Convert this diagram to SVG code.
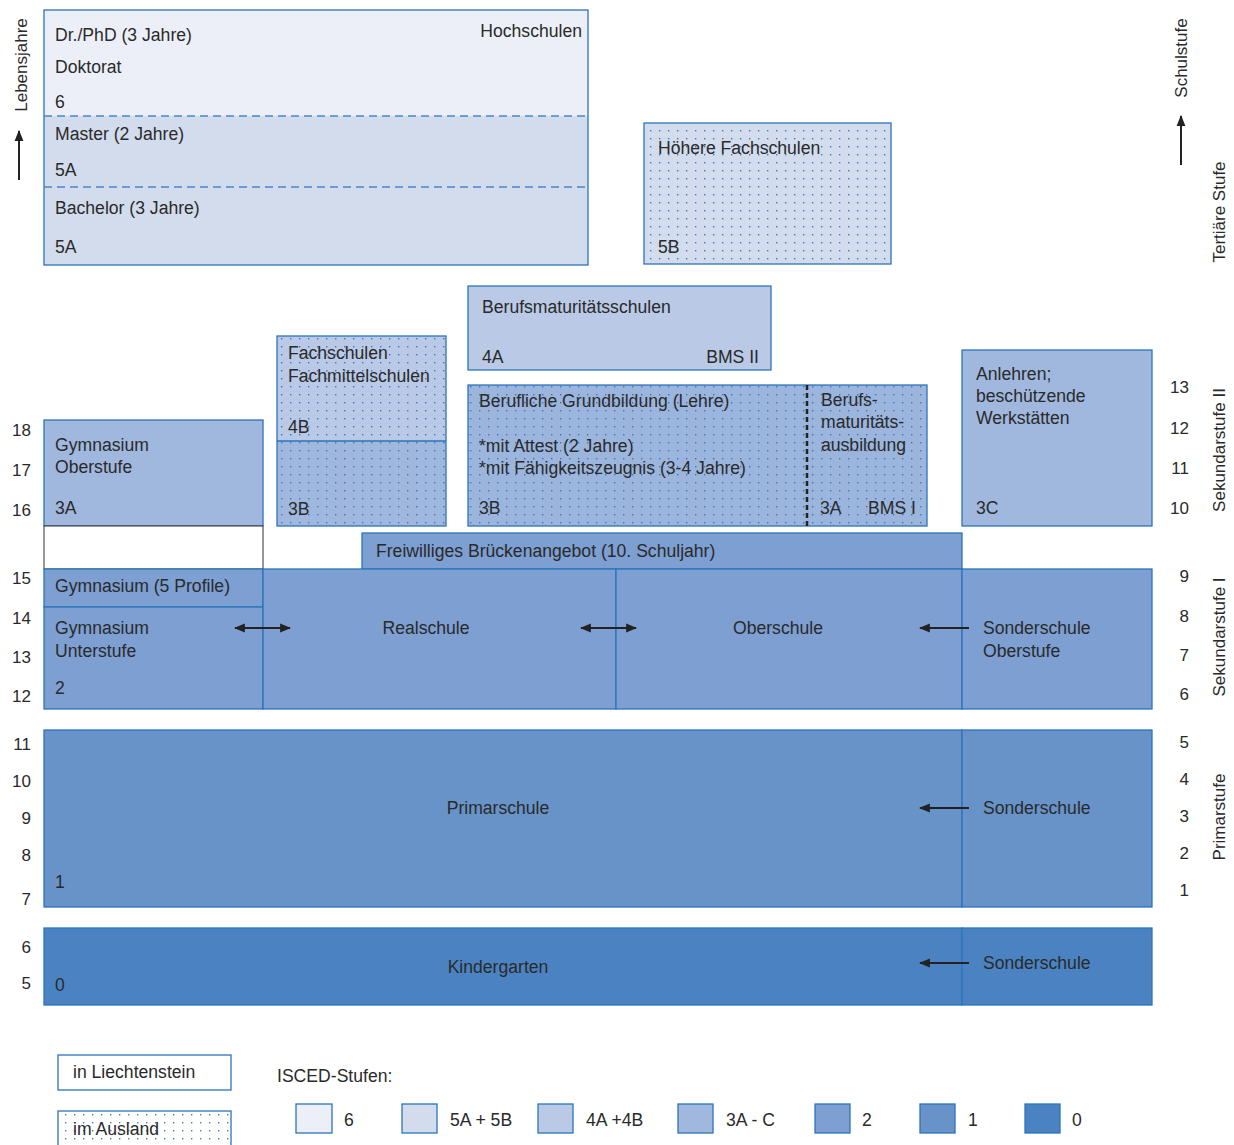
<svg xmlns="http://www.w3.org/2000/svg" width="1234" height="1145" viewBox="0 0 1234 1145">
<style>
text{font-family:"Liberation Sans",Arial,sans-serif;font-size:17.6px;fill:#2a2a2a}
.side{font-size:17px;fill:#2a2a2a}
.num{font-size:17px}
.box{stroke:#2b74bb;stroke-width:1.3}
.l6{fill:#eceff8}.l5{fill:#d3dced}.l4{fill:#b9c9e6}.l3{fill:#a0b8de}.l2{fill:#7d9fd2}.l1{fill:#6893c9}.l0{fill:#4b83c2}
.dots{fill:url(#dots);stroke:none}
.arr{stroke:#222;stroke-width:2;fill:none}
.mid{text-anchor:middle}.end{text-anchor:end}
</style>
<defs>
<pattern id="dots" width="9" height="8" patternUnits="userSpaceOnUse">
<rect x="2" y="2" width="1.4" height="1.4" fill="#2a6fc0" opacity="0.9"/>
</pattern>
<marker id="ah" viewBox="0 0 10 10" refX="9" refY="5" markerWidth="5.5" markerHeight="5.5" orient="auto-start-reverse" markerUnits="strokeWidth">
<path d="M0,1 L10,5 L0,9 z" fill="#222"/>
</marker>
</defs>
<rect width="1234" height="1145" fill="#fff"/>

<g id="axis-left">
<text class="side mid" transform="translate(27,65) rotate(-90)">Lebensjahre</text>
<text class="num end" x="31" y="436">18</text>
<text class="num end" x="31" y="476">17</text>
<text class="num end" x="31" y="516">16</text>
<text class="num end" x="31" y="584">15</text>
<text class="num end" x="31" y="624">14</text>
<text class="num end" x="31" y="663">13</text>
<text class="num end" x="31" y="702">12</text>
<text class="num end" x="31" y="750">11</text>
<text class="num end" x="31" y="787">10</text>
<text class="num end" x="31" y="824">9</text>
<text class="num end" x="31" y="861">8</text>
<text class="num end" x="31" y="905">7</text>
<text class="num end" x="31" y="953">6</text>
<text class="num end" x="31" y="989">5</text>
</g>

<g id="axis-right">
<text class="side mid" transform="translate(1187,58) rotate(-90)">Schulstufe</text>
<text class="side mid" transform="translate(1225,212) rotate(-90)">Tertiäre Stufe</text>
<text class="side mid" transform="translate(1225,450) rotate(-90)">Sekundarstufe II</text>
<text class="side mid" transform="translate(1225,637) rotate(-90)">Sekundarstufe I</text>
<text class="side mid" transform="translate(1225,817) rotate(-90)">Primarstufe</text>
<text class="num end" x="1189" y="393">13</text>
<text class="num end" x="1189" y="434">12</text>
<text class="num end" x="1189" y="474">11</text>
<text class="num end" x="1189" y="514">10</text>
<text class="num end" x="1189" y="582">9</text>
<text class="num end" x="1189" y="622">8</text>
<text class="num end" x="1189" y="661">7</text>
<text class="num end" x="1189" y="700">6</text>
<text class="num end" x="1189" y="748">5</text>
<text class="num end" x="1189" y="785">4</text>
<text class="num end" x="1189" y="822">3</text>
<text class="num end" x="1189" y="859">2</text>
<text class="num end" x="1189" y="896">1</text>
</g>

<g id="hochschulen">
<rect class="l6" x="44" y="10" width="544" height="106"/>
<rect class="l5" x="44" y="116" width="544" height="149"/>
<rect x="44" y="10" width="544" height="255" fill="none" class="box"/>
<line x1="44" y1="116" x2="588" y2="116" stroke="#4a86c8" stroke-width="1.3" stroke-dasharray="8,5"/>
<line x1="44" y1="187" x2="588" y2="187" stroke="#4a86c8" stroke-width="1.3" stroke-dasharray="8,5"/>
<text x="55" y="41">Dr./PhD (3 Jahre)</text>
<text x="55" y="73">Doktorat</text>
<text x="55" y="108">6</text>
<text x="582" y="37" class="end">Hochschulen</text>
<text x="55" y="140">Master (2 Jahre)</text>
<text x="55" y="176">5A</text>
<text x="55" y="214">Bachelor (3 Jahre)</text>
<text x="55" y="253">5A</text>
</g>

<g id="hoehere-fachschulen">
<rect class="l5 box" x="644" y="123" width="247" height="141"/>
<rect class="dots" x="645" y="124" width="245" height="139"/>
<text x="658" y="154">Höhere Fachschulen</text>
<text x="658" y="253">5B</text>
</g>

<g id="berufsmaturitaetsschulen">
<rect class="l4 box" x="468" y="286" width="303" height="84"/>
<text x="482" y="313">Berufsmaturitätsschulen</text>
<text x="482" y="363">4A</text>
<text x="759" y="363" class="end">BMS II</text>
</g>

<g id="fachschulen">
<rect class="l4" x="277" y="336" width="169" height="105"/>
<rect class="l3" x="277" y="441" width="169" height="85"/>
<rect class="dots" x="278" y="337" width="167" height="188"/>
<rect x="277" y="336" width="169" height="190" fill="none" class="box"/>
<line x1="277" y1="441" x2="446" y2="441" stroke="#2b74bb" stroke-width="1.3"/>
<text x="288" y="359">Fachschulen</text>
<text x="288" y="382">Fachmittelschulen</text>
<text x="288" y="433">4B</text>
<text x="288" y="515">3B</text>
</g>

<g id="berufliche-grundbildung">
<rect x="468" y="385" width="459" height="141" fill="#9cb5dc" class="box"/>
<rect class="dots" x="469" y="386" width="457" height="139"/>
<line x1="807" y1="385" x2="807" y2="526" stroke="#222" stroke-width="2.5" stroke-dasharray="5,3"/>
<text x="479" y="407">Berufliche Grundbildung (Lehre)</text>
<text x="479" y="452">*mit Attest (2 Jahre)</text>
<text x="479" y="474">*mit Fähigkeitszeugnis (3-4 Jahre)</text>
<text x="479" y="514">3B</text>
<text x="821" y="406">Berufs-</text>
<text x="821" y="428">maturitäts-</text>
<text x="821" y="451">ausbildung</text>
<text x="820" y="514">3A</text>
<text x="916" y="514" class="end">BMS I</text>
</g>

<g id="anlehren">
<rect class="l3 box" x="962" y="350" width="190" height="176"/>
<text x="976" y="380">Anlehren;</text>
<text x="976" y="402">beschützende</text>
<text x="976" y="424">Werkstätten</text>
<text x="976" y="514">3C</text>
</g>

<g id="gymnasium-oberstufe">
<rect class="l3 box" x="44" y="420" width="219" height="106"/>
<text x="55" y="451">Gymnasium</text>
<text x="55" y="473">Oberstufe</text>
<text x="55" y="514">3A</text>
</g>

<g id="luecke">
<rect x="44" y="526" width="219" height="43" fill="#fff" stroke="#333" stroke-width="1"/>
</g>

<g id="brueckenangebot">
<rect class="l2 box" x="362" y="533" width="600" height="36"/>
<text x="376" y="557">Freiwilliges Brückenangebot (10. Schuljahr)</text>
</g>

<g id="gymnasium-profile">
<rect class="l2 box" x="44" y="569" width="219" height="38"/>
<text x="55" y="592">Gymnasium (5 Profile)</text>
</g>

<g id="gymnasium-unterstufe">
<rect class="l2 box" x="44" y="607" width="219" height="102"/>
<text x="55" y="634">Gymnasium</text>
<text x="55" y="657">Unterstufe</text>
<text x="55" y="694">2</text>
</g>

<g id="realschule">
<rect class="l2 box" x="263" y="569" width="353" height="140"/>
<text x="426" y="634" class="mid">Realschule</text>
</g>

<g id="oberschule">
<rect class="l2 box" x="616" y="569" width="346" height="140"/>
<text x="778" y="634" class="mid">Oberschule</text>
</g>

<g id="sonderschule-oberstufe">
<rect class="l2 box" x="962" y="569" width="190" height="140"/>
<text x="983" y="634">Sonderschule</text>
<text x="983" y="657">Oberstufe</text>
</g>

<g id="primarschule">
<rect class="l1 box" x="44" y="730" width="918" height="177"/>
<text x="498" y="814" class="mid">Primarschule</text>
<text x="55" y="888">1</text>
</g>

<g id="sonderschule-primar">
<rect class="l1 box" x="962" y="730" width="190" height="177"/>
<text x="983" y="814">Sonderschule</text>
</g>

<g id="kindergarten">
<rect class="l0 box" x="44" y="928" width="918" height="77"/>
<text x="498" y="973" class="mid">Kindergarten</text>
<text x="55" y="991">0</text>
</g>

<g id="sonderschule-kindergarten">
<rect class="l0 box" x="962" y="928" width="190" height="77"/>
<text x="983" y="969">Sonderschule</text>
</g>

<g id="connectors">
<line class="arr" x1="19" y1="180" x2="19" y2="131" marker-end="url(#ah)"/>
<line class="arr" x1="1181" y1="165" x2="1181" y2="116" marker-end="url(#ah)"/>
<line class="arr" x1="235" y1="628" x2="290" y2="628" marker-start="url(#ah)" marker-end="url(#ah)"/>
<line class="arr" x1="581" y1="628" x2="636" y2="628" marker-start="url(#ah)" marker-end="url(#ah)"/>
<line class="arr" x1="969" y1="628" x2="920" y2="628" marker-end="url(#ah)"/>
<line class="arr" x1="969" y1="808" x2="920" y2="808" marker-end="url(#ah)"/>
<line class="arr" x1="969" y1="963" x2="920" y2="963" marker-end="url(#ah)"/>
</g>

<g id="legend">
<rect x="58" y="1055" width="173" height="35" fill="#fff" class="box"/>
<text x="73" y="1078">in Liechtenstein</text>
<rect x="58" y="1111" width="173" height="40" fill="#fff" class="box"/>
<rect class="dots" x="59" y="1112" width="171" height="38"/>
<text x="73" y="1135">im Ausland</text>
<text x="277" y="1082">ISCED-Stufen:</text>
<rect class="l6 box" x="296" y="1104" width="36" height="29"/>
<text x="344" y="1126">6</text>
<rect class="l5 box" x="402" y="1104" width="35" height="29"/>
<text x="450" y="1126">5A + 5B</text>
<rect class="l4 box" x="538" y="1104" width="35" height="29"/>
<text x="586" y="1126">4A +4B</text>
<rect class="l3 box" x="678" y="1104" width="35" height="29"/>
<text x="726" y="1126">3A - C</text>
<rect class="l2 box" x="815" y="1104" width="35" height="29"/>
<text x="862" y="1126">2</text>
<rect class="l1 box" x="920" y="1104" width="35" height="29"/>
<text x="968" y="1126">1</text>
<rect class="l0 box" x="1025" y="1104" width="35" height="29"/>
<text x="1072" y="1126">0</text>
</g>
</svg>
